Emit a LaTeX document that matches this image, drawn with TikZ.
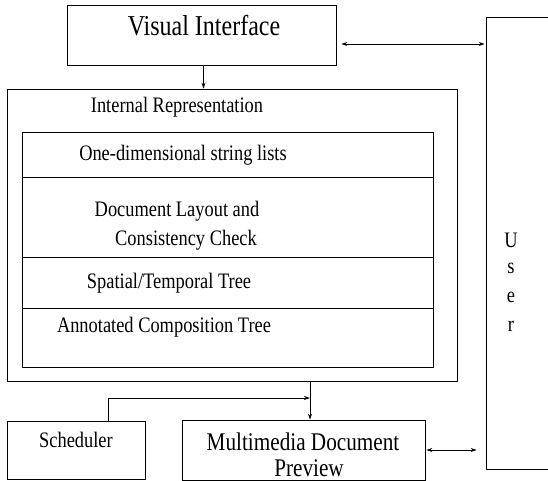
\documentclass[tikz,border=0pt]{standalone}
\usepackage{fontspec}
\setmainfont{Liberation Serif}
\usetikzlibrary{arrows.meta}
\newcommand{\tall}[1]{\scalebox{1}[1.2]{#1}}

\begin{document}
\begin{tikzpicture}[x=1pt, y=-1pt, line width=0.8pt, >={Stealth[length=6pt, width=4pt]}]
	\tikzstyle{box} = [rectangle, draw, inner sep=0pt]
	\tikzstyle{txt} = [inner sep=0pt, font=\fontsize{18.4}{22}\selectfont]
	\useasboundingbox (0,0) rectangle (548,481);
	\clip (0,0) rectangle (548,481);
	% boxes
	\node[box, minimum width=269, minimum height=60] (vi) at (201.5,35) {};
	\node[box, minimum width=450, minimum height=292] (ir) at (232,235) {};
	\node[box, minimum width=100, minimum height=452] (user) at (536,243) {};
	\node[box, minimum width=138, minimum height=58] (sched) at (76,450) {};
	\node[box, minimum width=243, minimum height=60] (mm) at (303.5,450) {};
	\foreach \name/\y/\h in {strl/154.5/45, layout/217/80, sttree/282.5/51, comptree/337.5/59}
	{
		\node[box, minimum width=411, minimum height=\h] (\name) at (227.5,\y) {};
	}
	% texts
	\node[txt, font=\fontsize{24}{28}\selectfont] (vitxt) at (204,26) {\tall{Visual Interface}};
	\node[txt] (irtxt) at (177,107) {\tall{Internal Representation}};
	\foreach \name/\x/\y/\t in {strltxt/183/155/One-dimensional string lists, layouttxt/177/211/Document Layout and, checktxt/186/240/Consistency Check, sttreetxt/169/283/{Spatial/Temporal Tree}, comptreetxt/164/327/Annotated Composition Tree}
	{
		\node[txt] (\name) at (\x,\y) {\tall{\t}};
	}
	\foreach \i/\l in {0/U, 1/s, 2/e, 3/r}
	{
		\node[txt] (user\i) at (511,240+28.7*\i) {\tall{\l}};
	}
	\node[txt] (schedtxt) at (76,440) {\tall{Scheduler}};
	\node[txt, font=\fontsize{21.2}{27}\selectfont] (mmtxt) at (303,442) {\tall{Multimedia Document}};
	\node[txt, font=\fontsize{21.2}{27}\selectfont] (prevtxt) at (309,468) {\tall{Preview}};
	% connectors
	\coordinate (join) at (310,398);
	\draw[->] (vi.south -| 203.5,0) -- (ir.north -| 203.5,0);
	\draw[<->, shorten <=5pt, shorten >=1pt] ([yshift=-9pt]vi.east) -- ([yshift=-9pt]vi.east -| user.west);
	\draw[->] (sched.north -| 108,0) |- (join);
	\draw[->] (ir.south -| join) -- (mm.north -| join);
	\draw[<->, shorten <=1pt, shorten >=9pt] (mm.east) -- (mm.east -| user.west);
\end{tikzpicture}
\end{document}
